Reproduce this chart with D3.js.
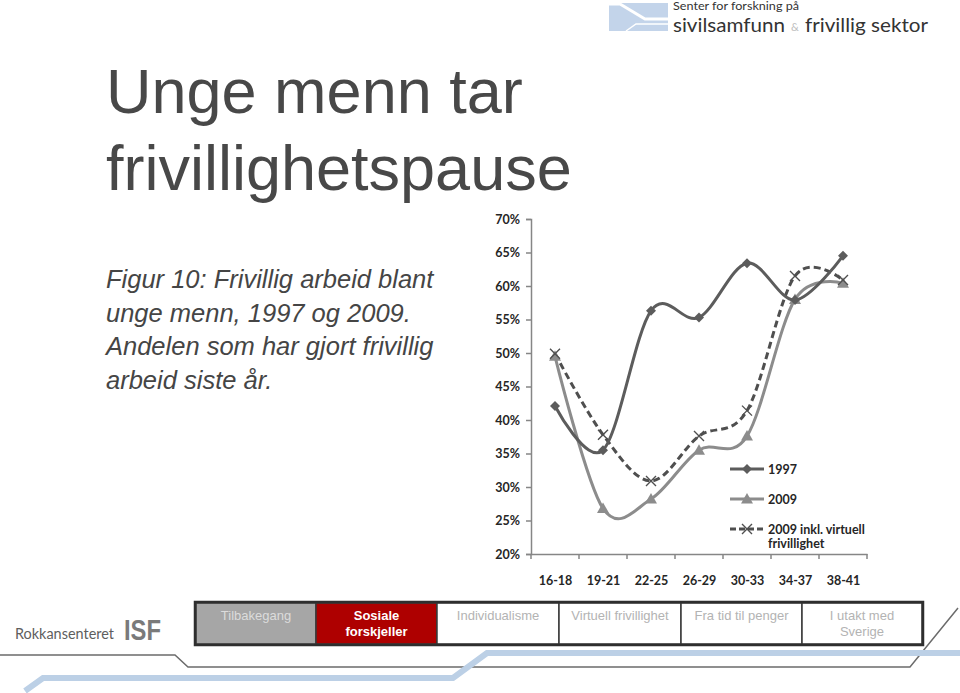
<!DOCTYPE html>
<html><head><meta charset="utf-8">
<script src="https://cdn.jsdelivr.net/npm/d3@7"></script>
<style>html,body{margin:0;padding:0;background:#fff;}svg{display:block;}</style>
</head><body>
<script>
const categories = ["16-18","19-21","22-25","26-29","30-33","34-37","38-41"];
const values1997 = [0.421,0.355,0.563,0.553,0.634,0.579,0.645];
const values2009 = [0.495,0.268,0.282,0.355,0.376,0.580,0.604];
const values2009v = [0.499,0.378,0.309,0.376,0.414,0.615,0.609];
const yTicks = [0.20,0.25,0.30,0.35,0.40,0.45,0.50,0.55,0.60,0.65,0.70];
const seriesNames = ["1997","2009","2009 inkl. virtuell","frivillighet"];
const navItems = [["Tilbakegang"],["Sosiale","forskjeller"],["Individualisme"],["Virtuell frivillighet"],["Fra tid til penger"],["I utakt med","Sverige"]];
const titleLines = ["Unge menn tar","frivillighetspause"];
const captionLines = ["Figur 10: Frivillig arbeid blant","unge menn, 1997 og 2009.","Andelen som har gjort frivillig","arbeid siste år."];

const W=960,H=693;
const svg=d3.select("body").append("svg").attr("width",W).attr("height",H);

// decorative lines
svg.append("polyline").attr("points","0,655 175,655 188,667 910,667 958,608")
  .attr("fill","none").attr("stroke","#6b6b6b").attr("stroke-width",1.5);
svg.append("polyline").attr("points","25,691 43,678 453,678 487,653 960,653")
  .attr("fill","none").attr("stroke","#bcd0e6").attr("stroke-width",6);

// top right logo
const lg=svg.append("g");
const lf="Lato, sans-serif";
lg.append("rect").attr("x",609).attr("y",3).attr("width",59).attr("height",28).attr("fill","#c3d4ea");
lg.append("polyline").attr("points","609,4 620,4 645,19 668,19").attr("fill","none").attr("stroke","#fff").attr("stroke-width",3);
lg.append("polyline").attr("points","626,31 636,24 668,24").attr("fill","none").attr("stroke","#fff").attr("stroke-width",1.5);
lg.append("text").attr("x",673).attr("y",10).attr("font-family",lf).attr("font-size",11.5).attr("fill","#333")
  .attr("textLength",126).attr("lengthAdjust","spacingAndGlyphs").text("Senter for forskning på");
lg.append("text").attr("x",673).attr("y",32).attr("font-family",lf).attr("font-size",20).attr("fill","#333")
  .attr("textLength",112).attr("lengthAdjust","spacingAndGlyphs").text("sivilsamfunn");
lg.append("text").attr("x",791).attr("y",31).attr("font-family",lf).attr("font-size",11).attr("fill","#c0c0c0").text("&");
lg.append("text").attr("x",805).attr("y",32).attr("font-family",lf).attr("font-size",20).attr("fill","#333")
  .attr("textLength",123).attr("lengthAdjust","spacingAndGlyphs").text("frivillig sektor");

// title
svg.append("g").selectAll("text").data(titleLines).join("text")
  .attr("x",106).attr("y",(d,i)=>113+i*77)
  .attr("font-family","Liberation Sans, Arial").attr("font-size",63).attr("fill","#484848").text(d=>d);

// caption
svg.append("g").selectAll("text").data(captionLines).join("text")
  .attr("x",106).attr("y",(d,i)=>288+i*33.5)
  .attr("font-family","Liberation Sans, Arial").attr("font-style","italic").attr("font-size",25.5).attr("fill","#454545").text(d=>d);

// chart
const x=d3.scalePoint().domain(categories).range([531,867]).padding(0.5);
const y=d3.scaleLinear().domain([0.2,0.7]).range([554,219]);
const font="Lato, 'Open Sans', sans-serif";

const yAxis=svg.append("g").attr("transform","translate(531,0)")
  .call(d3.axisLeft(y).tickValues(yTicks).tickFormat(d3.format(".0%")).tickSize(5).tickPadding(6));
const xAxis=svg.append("g").attr("transform","translate(0,554)")
  .call(d3.axisBottom(x).tickSize(0).tickPadding(22));
[yAxis,xAxis].forEach(a=>{
  a.select(".domain").attr("stroke","#868686").attr("stroke-width",1.5);
  a.selectAll(".tick line").attr("stroke","#868686").attr("stroke-width",1.5);
  a.selectAll("text").attr("font-family",font).attr("font-weight",700).attr("font-size",12.5).attr("fill","#262626");
});
// x tick marks at category boundaries
const step=x.step();
const bounds=d3.range(categories.length+1).map(i=>531+i*step);
svg.append("g").selectAll("line").data(bounds).join("line")
  .attr("x1",d=>d).attr("x2",d=>d).attr("y1",554).attr("y2",559).attr("stroke","#868686").attr("stroke-width",1.5);

const line=d3.line().x((d,i)=>x(categories[i])).y(d=>y(d)).curve(d3.curveCatmullRom.alpha(0));
const c1997="#5c5c5c",c2009="#8c8c8c",cv="#4f4f4f";

function diamond(g,cx,cy,col){g.append("path").attr("d",`M${cx},${cy-5}L${cx+5},${cy}L${cx},${cy+5}L${cx-5},${cy}Z`).attr("fill",col);}
function tri(g,cx,cy,col){g.append("path").attr("d",`M${cx},${cy-6}L${cx+6},${cy+4.5}L${cx-6},${cy+4.5}Z`).attr("fill",col);}
function cross(g,cx,cy,col){g.append("path").attr("d",`M${cx-5},${cy-5}L${cx+5},${cy+5}M${cx-5},${cy+5}L${cx+5},${cy-5}`).attr("stroke",col).attr("stroke-width",1.4).attr("fill","none");}

svg.append("path").datum(values2009).attr("d",line).attr("fill","none").attr("stroke",c2009).attr("stroke-width",3);
svg.append("path").datum(values2009v).attr("d",line).attr("fill","none").attr("stroke",cv).attr("stroke-width",3).attr("stroke-dasharray","7,4");
svg.append("path").datum(values1997).attr("d",line).attr("fill","none").attr("stroke",c1997).attr("stroke-width",3);

const mk=svg.append("g");
values2009.forEach((v,i)=>tri(mk,x(categories[i]),y(v),c2009));
values2009v.forEach((v,i)=>cross(mk,x(categories[i]),y(v),cv));
values1997.forEach((v,i)=>diamond(mk,x(categories[i]),y(v),c1997));

// legend
const leg=svg.append("g");
const ly=[469,499,529];
leg.append("line").attr("x1",730).attr("x2",764).attr("y1",ly[0]).attr("y2",ly[0]).attr("stroke",c1997).attr("stroke-width",3);
diamond(leg,747,ly[0],c1997);
leg.append("line").attr("x1",730).attr("x2",764).attr("y1",ly[1]).attr("y2",ly[1]).attr("stroke",c2009).attr("stroke-width",3);
tri(leg,747,ly[1],c2009);
leg.append("line").attr("x1",730).attr("x2",764).attr("y1",ly[2]).attr("y2",ly[2]).attr("stroke",cv).attr("stroke-width",3).attr("stroke-dasharray","6,3");
cross(leg,747,ly[2],cv);
[0,1,2].forEach(i=>leg.append("text").attr("x",768).attr("y",ly[i]+4.5).attr("font-family",font).attr("font-weight",700).attr("font-size",12.5).attr("fill","#262626").text(seriesNames[i]));
leg.append("text").attr("x",768).attr("y",548).attr("font-family",font).attr("font-weight",700).attr("font-size",12.5).attr("fill","#262626").text(seriesNames[3]);

// nav bar
const navX=[196,316,437,559,681,802,922];
const fills=["#a6a6a6","#ae0000","#fff","#fff","#fff","#fff"];
const tcol=["#dcdcdc","#fff","#b3b3b3","#b3b3b3","#b3b3b3","#b3b3b3"];
const nav=svg.append("g");
navItems.forEach((it,i)=>{
  nav.append("rect").attr("x",navX[i]).attr("y",603).attr("width",navX[i+1]-navX[i]).attr("height",41)
    .attr("fill",fills[i]).attr("stroke","#3a3a3a").attr("stroke-width",1.5);
  it.forEach((t,j)=>nav.append("text").attr("x",(navX[i]+navX[i+1])/2).attr("y",620+j*16).attr("text-anchor","middle")
    .attr("font-family","Liberation Sans, Arial").attr("font-size",13).attr("font-weight",i===1?700:400).attr("fill",tcol[i]).text(t));
});
nav.append("rect").attr("x",195).attr("y",602).attr("width",728).attr("height",43).attr("fill","none").attr("stroke","#2e2e2e").attr("stroke-width",2.5);

// bottom-left logos
svg.append("text").attr("x",15).attr("y",639).attr("font-family",lf).attr("font-size",15.5).attr("fill","#5e5e5e")
  .attr("textLength",99).attr("lengthAdjust","spacingAndGlyphs").text("Rokkansenteret");
svg.append("text").attr("x",124).attr("y",640).attr("font-family","Liberation Sans, Arial").attr("font-weight",700).attr("font-size",30).attr("fill","#7a7a7a")
  .attr("textLength",37).attr("lengthAdjust","spacingAndGlyphs").text("ISF");
</script>
</body></html>
